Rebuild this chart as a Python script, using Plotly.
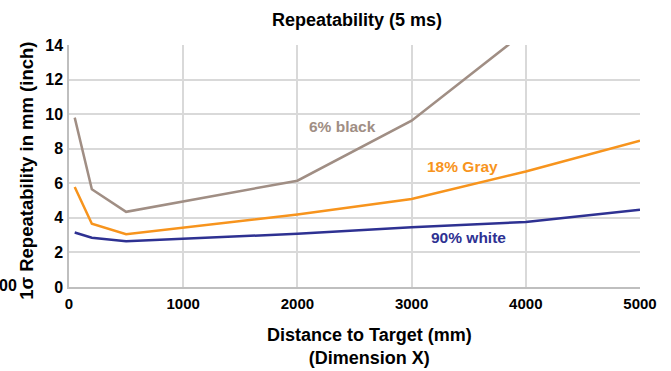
import plotly.graph_objects as go

dist_black = [50, 200, 500, 2000, 3000, 4000]
black_vals = [9.8, 5.65, 4.35, 6.15, 9.62, 14.8]
dist = [50, 200, 500, 2000, 3000, 4000, 5000]
gray_vals = [5.78, 3.66, 3.05, 4.2, 5.09, 6.68, 8.46]
white_vals = [3.15, 2.85, 2.65, 3.08, 3.45, 3.76, 4.47]
x_ticks = [0, 1000, 2000, 3000, 4000, 5000]
y_ticks = [0, 2, 4, 6, 8, 10, 12, 14]

C_BLACK = "#A08E84"
C_GRAY = "#F7941D"
C_WHITE = "#2E3192"
FONT = "Liberation Sans, Arial, sans-serif"

fig = go.Figure()
fig.add_trace(go.Scatter(x=dist_black, y=black_vals, mode="lines", line=dict(color=C_BLACK, width=2.5), name="6% black"))
fig.add_trace(go.Scatter(x=dist, y=gray_vals, mode="lines", line=dict(color=C_GRAY, width=2.5), name="18% Gray"))
fig.add_trace(go.Scatter(x=dist, y=white_vals, mode="lines", line=dict(color=C_WHITE, width=2.5), name="90% white"))

lab = dict(family=FONT, size=15.5)
fig.add_annotation(x=2398, y=9.3, text="<b>6% black</b>", showarrow=False, font=dict(lab, color=C_BLACK), xanchor="center", yanchor="middle")
fig.add_annotation(x=3447, y=6.96, text="<b>18% Gray</b>", showarrow=False, font=dict(lab, color=C_GRAY), xanchor="center", yanchor="middle")
fig.add_annotation(x=3496, y=2.89, text="<b>90% white</b>", showarrow=False, font=dict(lab, color=C_WHITE), xanchor="center", yanchor="middle")
fig.add_annotation(xref="paper", yref="paper", x=-0.1255, y=0.008, text="<b>00</b>", showarrow=False,
                   font=dict(family=FONT, size=16, color="black"), xanchor="left", yanchor="middle")
# axis titles
fig.add_annotation(xref="paper", yref="paper", x=0.5254, y=-0.246,
                   text="<b>Distance to Target (mm)<br>(Dimension X)</b>", showarrow=False,
                   font=dict(family=FONT, size=18, color="black"), xanchor="center", yanchor="middle")
fig.add_annotation(xref="paper", yref="paper", x=-0.0735, y=0.48, textangle=-90,
                   text="<b>1σ Repeatability in mm (inch)</b>", showarrow=False,
                   font=dict(family=FONT, size=18.5, color="black"), xanchor="center", yanchor="middle")

fig.update_layout(
    width=671, height=371,
    margin=dict(l=69, r=31, t=45, b=84),
    paper_bgcolor="white", plot_bgcolor="white",
    showlegend=False,
    title=dict(text="<b>Repeatability (5 ms)</b>", x=0.532, xanchor="center", y=0.946, yanchor="middle",
               font=dict(family=FONT, size=18, color="black")),
    font=dict(family=FONT, color="black"),
)
fig.update_xaxes(range=[0, 5000], tickvals=x_ticks, ticktext=[f"<b>{v}</b>" for v in x_ticks],
                 showgrid=True, gridcolor="#D9D9D9", gridwidth=1.5, showline=True, linecolor="#BFBFBF", linewidth=1.5,
                 zeroline=False, tickfont=dict(family=FONT, size=15, color="black"), ticklabelstandoff=2)
fig.update_yaxes(range=[0, 14], tickvals=y_ticks, ticktext=[f"<b>{v}</b>" for v in y_ticks],
                 showgrid=True, gridcolor="#D9D9D9", gridwidth=1.5, showline=True, linecolor="#BFBFBF", linewidth=1.5,
                 zeroline=False, tickfont=dict(family=FONT, size=16, color="black"), ticklabelstandoff=1)

fig.write_html("out.html", config={"displayModeBar": False},
               post_script="document.body.style.margin='0';")
